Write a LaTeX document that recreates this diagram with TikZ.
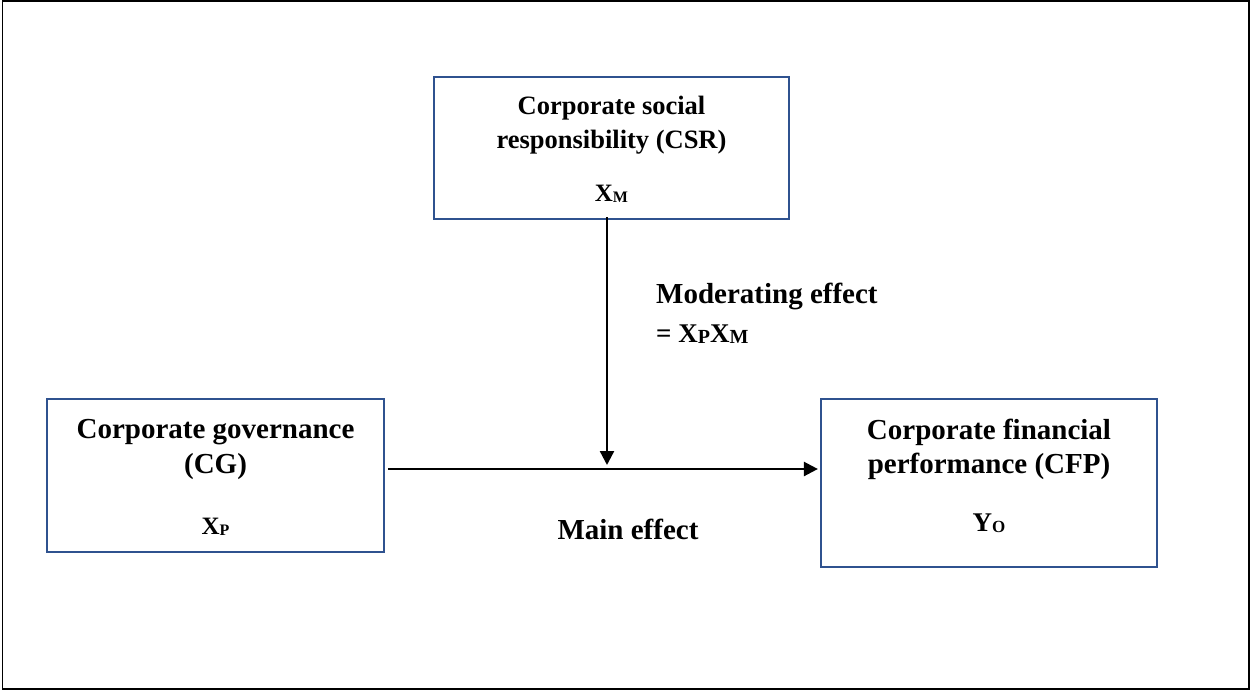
\documentclass[tikz,border=0pt]{standalone}
\usepackage{fontspec}
\setmainfont{Liberation Serif}
\usetikzlibrary{arrows.meta}
\definecolor{boxblue}{RGB}{47,82,143}
\newcommand{\lowsub}[2]{\raisebox{-1.5pt}{\fontsize{#1}{#1}\selectfont #2}}
\begin{document}
\begin{tikzpicture}[x=1pt,y=-1pt,
  box/.style={draw=boxblue, line width=2.2pt, inner sep=0pt},
  txt/.style={inner sep=0pt, anchor=base, font=\bfseries\fontsize{29}{33}\selectfont},
  stxt/.style={txt, font=\bfseries\fontsize{26.5}{30}\selectfont},
  arr/.style={line width=2.4pt, -{Triangle[length=14pt,width=14pt]}}]
\useasboundingbox (0,0) rectangle (1250,690);
\draw[line width=1.8pt] (2.5,1) rectangle (1248.8,688.8);
% boxes
\node[box, minimum width=355pt, minimum height=142pt] (csr) at (611.5,148) {};
\node[box, minimum width=337pt, minimum height=153pt] (cg) at (215.5,475.5) {};
\node[box, minimum width=336pt, minimum height=168pt] (cfp) at (989,483) {};
% CSR text
\node[stxt] (csr1) at (611.5,115) {Corporate social};
\node[stxt] (csr2) at (611.5,149) {responsibility (CSR)};
\node[txt, font=\bfseries\fontsize{25}{30}\selectfont] (csr3) at (611.5,201) {X\lowsub{16}{M}};
% CG text
\node[txt] (cg1) at (215.5,438) {Corporate governance};
\node[txt] (cg2) at (215.5,473) {(CG)};
\node[txt, font=\bfseries\fontsize{25}{30}\selectfont] (cg3) at (215.5,534) {X\lowsub{16}{P}};
% CFP text
\node[txt] (cfp1) at (989,439) {Corporate financial};
\node[txt] (cfp2) at (989,473) {performance (CFP)};
\node[txt, font=\bfseries\fontsize{27}{30}\selectfont] (cfp3) at (989,531) {Y\lowsub{17}{O}};
% labels
\node[txt, anchor=base west] (mod1) at (656,303) {Moderating effect};
\node[txt, anchor=base west, font=\bfseries\fontsize{27}{30}\selectfont] (mod2) at (656,342) {= {\fontsize{27}{28}\selectfont X\lowsub{20}{P}X\lowsub{20}{M}}};
\node[txt] (main) at (628,539) {Main effect};
% connectors
\coordinate (mid) at (607,469);
\coordinate (midtip) at (607,465);
\draw[arr] ([xshift=3pt]cg.east |- mid) -- ([xshift=-2pt]cfp.west |- mid);
\draw[arr] ([yshift=3pt]csr.south -| mid) -- (midtip);
\end{tikzpicture}
\end{document}
